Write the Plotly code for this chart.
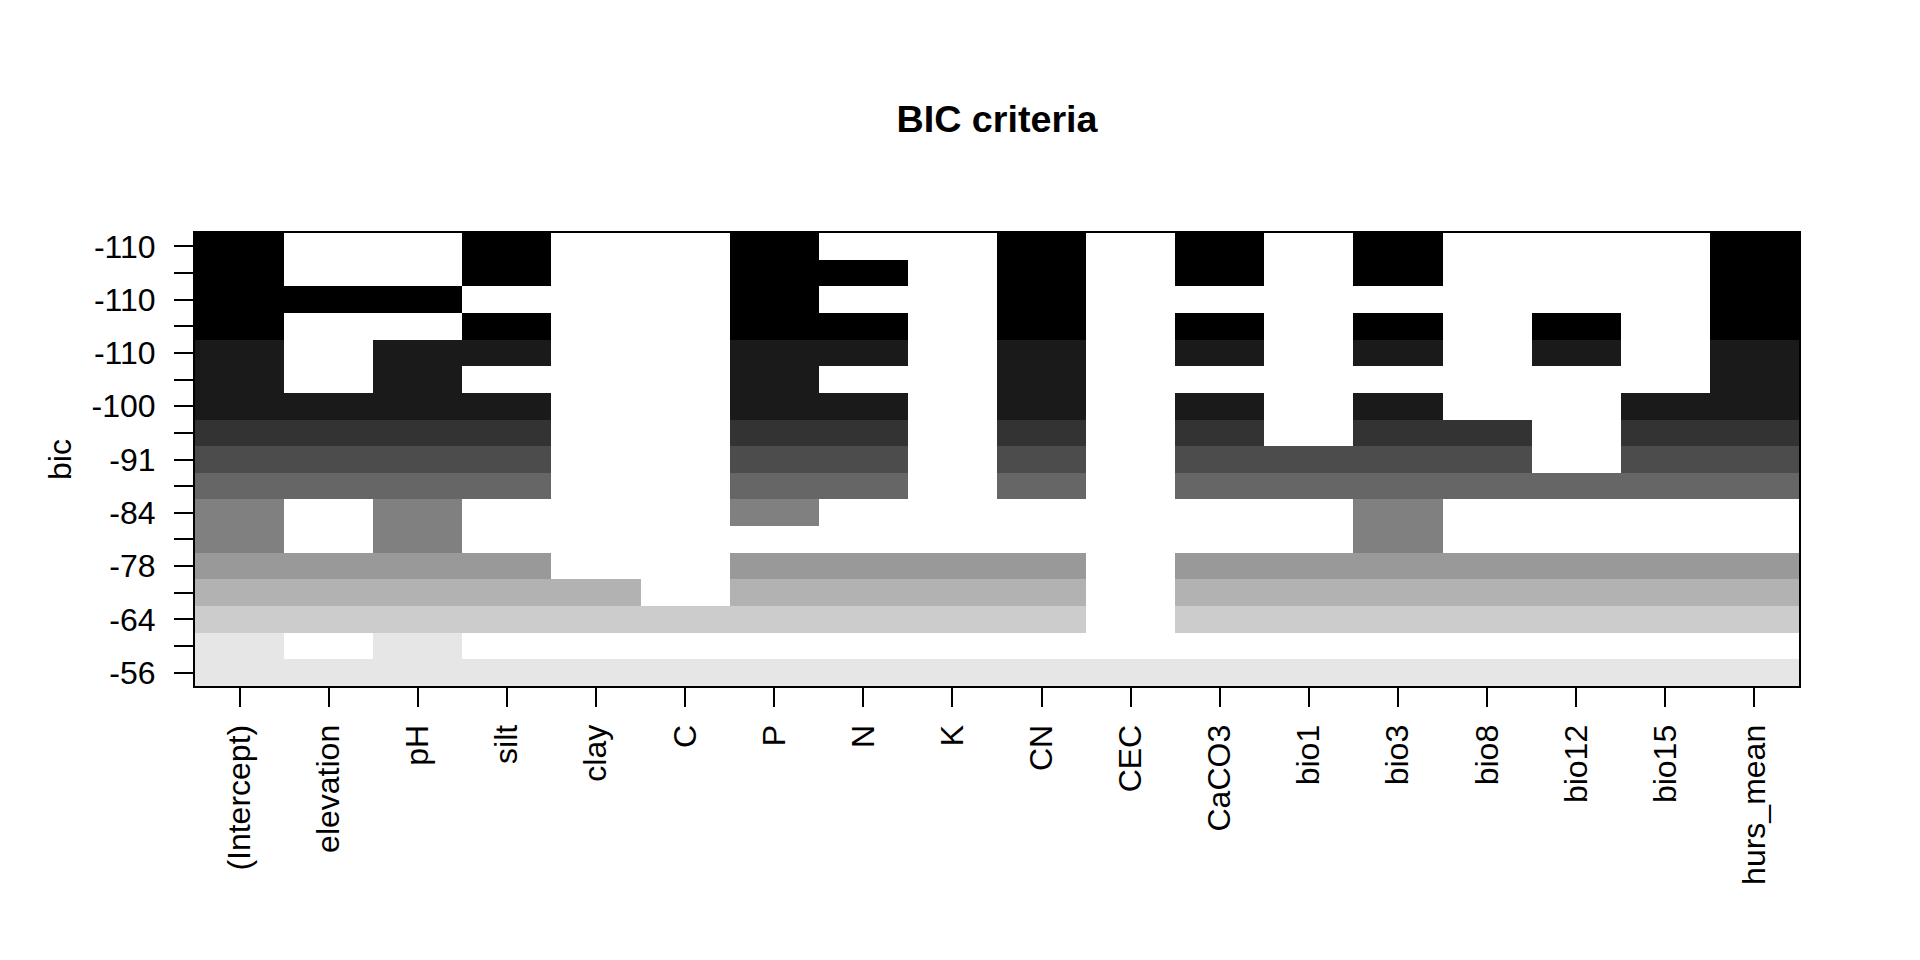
import plotly.graph_objects as go

# Variables (columns of the regsubsets "which" matrix)
variables = ["(Intercept)", "elevation", "pH", "silt", "clay", "C", "P", "N", "K",
             "CN", "CEC", "CaCO3", "bio1", "bio3", "bio8", "bio12", "bio15", "hurs_mean"]

# BIC of each model, ordered from bottom row (worst) to top row (best)
bic = [-56.0, -59.0, -64.2, -70.5, -77.8, -81.0, -84.2, -87.5, -91.0,
       -97.0, -102.5, -104.5, -106.0, -108.0, -109.0, -111.5, -112.8]

# Variables included in each model (same order as bic); intercept always in
model_vars = [
    variables[1:],
    ["pH"],
    [v for v in variables[1:] if v != "CEC"],
    [v for v in variables[1:] if v not in ("C", "CEC")],
    [v for v in variables[1:] if v not in ("clay", "C", "CEC")],
    ["pH", "bio3"],
    ["pH", "P", "bio3"],
    ["elevation", "pH", "silt", "P", "N", "CN", "CaCO3", "bio1", "bio3", "bio8", "bio12", "bio15", "hurs_mean"],
    ["elevation", "pH", "silt", "P", "N", "CN", "CaCO3", "bio1", "bio3", "bio8", "bio15", "hurs_mean"],
    ["elevation", "pH", "silt", "P", "N", "CN", "CaCO3", "bio3", "bio8", "bio15", "hurs_mean"],
    ["elevation", "pH", "silt", "P", "N", "CN", "CaCO3", "bio3", "bio15", "hurs_mean"],
    ["pH", "P", "CN", "hurs_mean"],
    ["pH", "silt", "P", "N", "CN", "CaCO3", "bio3", "bio12", "hurs_mean"],
    ["silt", "P", "N", "CN", "CaCO3", "bio3", "bio12", "hurs_mean"],
    ["elevation", "pH", "P", "CN", "hurs_mean"],
    ["silt", "P", "N", "CN", "CaCO3", "bio3", "hurs_mean"],
    ["silt", "P", "CN", "CaCO3", "bio3", "hurs_mean"],
]

# gray(seq(0, 0.9, length=10))
gray_levels = [0.0, 0.1, 0.2, 0.3, 0.4, 0.5, 0.6, 0.7, 0.8, 0.9]


def signif2(v):
    from math import floor, log10
    d = 2 - int(floor(log10(abs(v)))) - 1
    return round(v, d) if d > 0 else int(round(v, d))


nrow = len(bic)
xs = list(range(1, len(variables) + 1))
ys = list(range(1, nrow + 1))
z = []
for b, mv in zip(bic, model_vars):
    inc = set(["(Intercept)"] + list(mv))
    z.append([b if v in inc else None for v in variables])

n = len(gray_levels)
colorscale = []
for i, g in enumerate(gray_levels):
    c = int(round(g * 255))
    col = f"rgb({c},{c},{c})"
    colorscale.append([i / n, col])
    colorscale.append([(i + 1) / n, col])

fig = go.Figure(go.Heatmap(
    x=xs, y=ys, z=z, zmin=min(bic), zmax=max(bic),
    colorscale=colorscale, showscale=False, hoverongaps=False, xgap=0, ygap=0,
))

ylabels = [str(signif2(b)) if (i % 2 == 0) else "" for i, b in enumerate(bic)]

font_family = "Liberation Sans, Arial, sans-serif"
fs = 32
fig.update_layout(
    width=1920, height=960,
    margin=dict(l=187, r=129, t=225, b=282),
    paper_bgcolor="white", plot_bgcolor="white",
    font=dict(family=font_family, color="black", size=fs),
    title=dict(text="<b>BIC criteria</b>", x=989 / 1920, xanchor="center",
               y=1 - 111 / 960, yanchor="middle",
               font=dict(size=37.7, family=font_family, color="black")),
    xaxis=dict(range=[0.5, len(variables) + 0.5], tickmode="array", tickvals=xs,
               ticktext=variables, tickangle=-90, ticks="outside", ticklen=19,
               tickwidth=2, tickcolor="black", showline=True, linecolor="black",
               linewidth=2, mirror=True, showgrid=False, zeroline=False,
               tickfont=dict(size=fs), ticklabelstandoff=5),
    yaxis=dict(range=[0.5, nrow + 0.5], tickmode="array", tickvals=ys,
               ticktext=ylabels, ticks="outside", ticklen=19, tickwidth=2,
               tickcolor="black", showline=True, linecolor="black", linewidth=2,
               mirror=True, showgrid=False, zeroline=False,
               tickfont=dict(size=fs), ticklabelstandoff=12,
               title=dict(text="bic", font=dict(size=fs), standoff=10)),
)

fig.write_html("out.html")
